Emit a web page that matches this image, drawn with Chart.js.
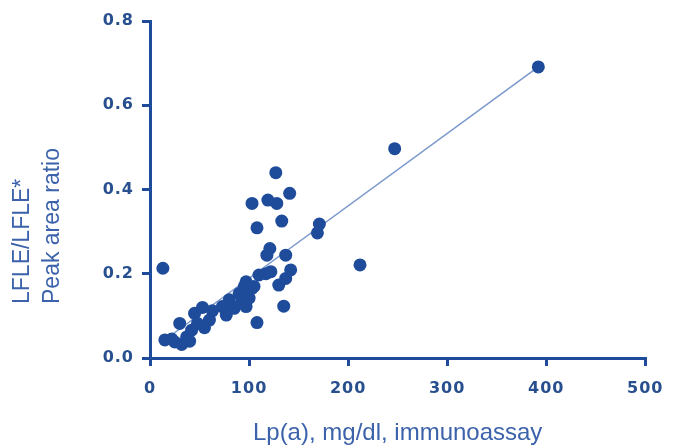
<!DOCTYPE html>
<html>
<head>
<meta charset="utf-8">
<script src="https://cdn.jsdelivr.net/npm/chart.js@4/dist/chart.umd.min.js"></script>
<style>
html,body{margin:0;padding:0;background:#fff;}
#c{display:block;}
</style>
</head>
<body>
<canvas id="c" width="675" height="448"></canvas>
<script>
// Lp(a) immunoassay (mg/dl)
const lpaValues = [13,15,22,25,32,37,30,42,40,45,48,53,55,60,63,73,77,80,85,90,92,95,97,97,100,103,108,103,108,110,117,122,118,121,127,119,128,133,141,137,142,137,130,135,169,171,212,247,392,105];
// LFLE/LFLE* peak area ratio
const ratioValues = [0.213,0.043,0.045,0.038,0.032,0.05,0.082,0.066,0.04,0.106,0.082,0.12,0.072,0.09,0.112,0.122,0.102,0.138,0.118,0.153,0.13,0.169,0.181,0.122,0.142,0.165,0.084,0.367,0.309,0.197,0.2,0.205,0.244,0.26,0.44,0.375,0.367,0.325,0.391,0.244,0.209,0.189,0.173,0.123,0.297,0.318,0.221,0.497,0.691,0.17];
// regression line end points
const fitX = [12, 392];
const fitY = [0.038, 0.691];
const xTicks = [0,100,200,300,400,500];
const yTicks = [0.0,0.2,0.4,0.6,0.8];
const xTitle = 'Lp(a), mg/dl, immunoassay';
const yTitleLines = ['LFLE/LFLE*', 'Peak area ratio'];

const DARK = '#1f4b9b';
const TICKTXT = '#28508f';
const TITLE = '#3b62aa';

const scatterData = lpaValues.map((x,i)=>({x:x, y:ratioValues[i]}));
const lineData = fitX.map((x,i)=>({x:x, y:fitY[i]}));

const spacingPlugin = {
  id:'spacing',
  afterDatasetsDraw(chart){ chart.ctx.letterSpacing = '1px'; },
  afterDraw(chart){
    const ctx = chart.ctx;
    ctx.letterSpacing = '0px';
    ctx.save();
    ctx.fillStyle = TITLE;
    ctx.font = '23px "Liberation Sans", Arial, sans-serif';
    ctx.textAlign = 'left';
    ctx.textBaseline = 'middle';
    const xs = [23, 53];
    yTitleLines.forEach((t,i)=>{
      ctx.save();
      ctx.translate(xs[i], 304);
      ctx.rotate(-Math.PI/2);
      ctx.fillText(t, 0, 0);
      ctx.restore();
    });
    ctx.restore();
  }
};

new Chart(document.getElementById('c'), {
  type:'scatter',
  data:{
    datasets:[
      {label:'data', data:scatterData, backgroundColor:DARK, borderWidth:0, pointRadius:6.5, pointHoverRadius:6.5},
      {label:'fit', type:'line', data:lineData, borderColor:'#7b98cc', borderWidth:1.5, pointRadius:0, fill:false}
    ]
  },
  options:{
    responsive:false,
    animation:false,
    events:[],
    layout:{padding:{left:0,right:25,top:21,bottom:0}},
    plugins:{legend:{display:false}, tooltip:{enabled:false}},
    scales:{
      x:{
        type:'linear', min:0, max:500,
        afterBuildTicks(s){ s.ticks = xTicks.map(v=>({value:v})); },
        afterFit(s){ s.height = 90; },
        grid:{display:true, drawOnChartArea:false, drawTicks:true, tickLength:8, color:DARK, lineWidth:3},
        border:{display:true, color:DARK, width:3},
        ticks:{z:1, color:TICKTXT, padding:13, maxRotation:0, font:{family:'"DejaVu Sans", sans-serif', size:16, weight:'bold'}, callback:(v)=>String(v)},
        title:{display:true, text:xTitle, color:TITLE, padding:{top:0,bottom:0}, font:{family:'"Liberation Sans", Arial, sans-serif', size:24}}
      },
      y:{
        type:'linear', min:0, max:0.8,
        afterBuildTicks(s){ s.ticks = yTicks.map(v=>({value:v})); },
        afterFit(s){ s.width = 150; },
        grid:{display:true, drawOnChartArea:false, drawTicks:true, tickLength:8, color:DARK, lineWidth:3},
        border:{display:true, color:DARK, width:3},
        ticks:{z:1, color:TICKTXT, padding:8, font:{family:'"DejaVu Sans", sans-serif', size:16, weight:'bold'}, callback:(v)=>Number(v).toFixed(1)}
      }
    }
  },
  plugins:[spacingPlugin]
});
</script>
</body>
</html>
